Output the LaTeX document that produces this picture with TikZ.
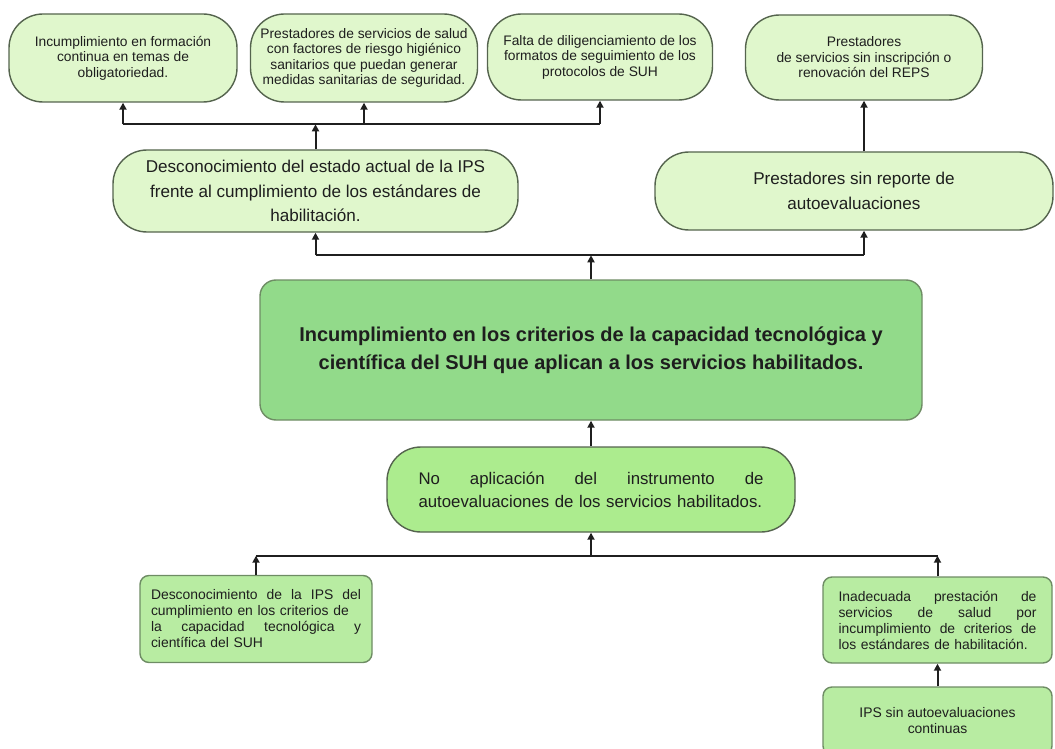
\documentclass[tikz,border=0pt]{standalone}
\usepackage{fontspec}
\setmainfont{Liberation Sans}
\usetikzlibrary{arrows.meta,calc}
\definecolor{topfill}{RGB}{224,247,204}
\definecolor{midfill}{RGB}{146,218,138}
\definecolor{sevfill}{RGB}{172,236,142}
\definecolor{botfill}{RGB}{184,236,162}
\definecolor{bordA}{RGB}{85,100,78}
\definecolor{bordB}{RGB}{110,140,100}
\definecolor{ink}{RGB}{30,30,30}
\begin{document}
\begin{tikzpicture}[x=1pt,y=-1pt,
  pill/.style={draw=bordA, line width=1.4pt, fill=topfill, rounded corners=34pt,
    inner sep=0pt, align=center, text=ink},
  smallpill/.style={pill, font=\fontsize{13.8}{15.5}\selectfont},
  bigpill/.style={pill, font=\fontsize{17.1}{24.5}\selectfont},
  mainbox/.style={draw=bordB, line width=1.4pt, fill=midfill, rounded corners=16pt,
    inner sep=0pt, align=center, text=ink, font=\fontsize{20}{28}\selectfont\bfseries},
  sevbox/.style={pill, fill=sevfill, font=\fontsize{16.8}{23}\selectfont},
  botbox/.style={draw=bordB, line width=1.4pt, fill=botfill, rounded corners=9pt,
    inner sep=0pt, text=ink, font=\fontsize{13.9}{16}\selectfont},
  ln/.style={line width=2pt, draw=black!88},
  arr/.style={ln, -{Triangle[length=7pt,width=7pt]}}
]
\useasboundingbox (0,0) rectangle (1055,749);

% top row
\node[smallpill, minimum width=228pt, minimum height=88pt] (b1) at (123,58)
  {Incumplimiento en formación\\continua en temas de\\obligatoriedad.};
\node[smallpill, minimum width=227pt, minimum height=88pt] (b2) at (364,58)
  {Prestadores de servicios de salud\\con factores de riesgo higiénico\\sanitarios que puedan generar\\medidas sanitarias de seguridad.};
\node[smallpill, minimum width=225pt, minimum height=86pt] (b3) at (600,57)
  {Falta de diligenciamiento de los\\formatos de seguimiento de los\\protocolos de SUH};
\node[smallpill, minimum width=237pt, minimum height=85pt] (b4) at (864,57.5)
  {Prestadores\\de servicios sin inscripción o\\renovación del REPS};

% middle row
\node[bigpill, minimum width=405pt, minimum height=82pt] (b5) at (315.5,191)
  {Desconocimiento del estado actual de la IPS\\frente al cumplimiento de los estándares de\\habilitación.};
\node[bigpill, minimum width=398pt, minimum height=78pt] (b6) at (854,191)
  {Prestadores sin reporte de\\autoevaluaciones};

% central problem
\node[mainbox, minimum width=662pt, minimum height=140pt] (c) at (591,350)
  {Incumplimiento en los criterios de la capacidad tecnológica y\\científica del SUH que aplican a los servicios habilitados.};

% cause
\node[sevbox, minimum width=408pt, minimum height=85pt, text width=345pt, align=left] (b7) at (591,489.5)
  {No\hfill aplicación\hfill del\hfill instrumento\hfill de\\autoevaluaciones de los servicios habilitados.};

% bottom boxes
\node[botbox, minimum width=232pt, minimum height=87pt, text width=210pt, align=left] (b8) at (256,619)
  {Desconocimiento\hfill de\hfill la\hfill IPS\hfill del\\cumplimiento en los criterios de\\la\hfill capacidad\hfill tecnológica\hfill y\\científica del SUH};
\node[botbox, minimum width=229pt, minimum height=86pt, text width=198pt, align=left] (b9) at (937.5,620)
  {Inadecuada\hfill prestación\hfill de\\servicios\hfill de\hfill salud\hfill por\\incumplimiento\hfill de\hfill criterios\hfill de\\los estándares de habilitación.};
\node[botbox, minimum width=229pt, minimum height=68pt, align=center] (b10) at (937.5,721)
  {IPS sin autoevaluaciones\\continuas};

% connectors, top-left group
\coordinate (j1) at ($(b5.north)+(0,-25)$);
\draw[ln] (b1.south |- j1) -- (b3.south |- j1);
\draw[arr] (b5.north) -- (j1);
\draw[arr] (b1.south |- j1) -- (b1.south);
\draw[arr] (b2.south |- j1) -- (b2.south);
\draw[arr] (b3.south |- j1) -- (b3.south);
% right group
\draw[arr] (b6.north -| b4.south) -- (b4.south);
% central to middle row
\coordinate (j2) at ($(c.north)+(0,-24)$);
\draw[ln] (b5.south |- j2) -- (b4.south |- j2);
\draw[arr] (c.north) -- (j2);
\draw[arr] (b5.south |- j2) -- (b5.south);
\draw[arr] (b4.south |- j2) -- (b6.south -| b4.south);
% cause to central
\draw[arr] (b7.north) -- (c.south);
% bottom group
\coordinate (j3) at ($(b7.south)+(0,23)$);
\draw[ln] (b8.north |- j3) -- (b9.north |- j3);
\draw[arr] (j3) -- (b7.south);
\draw[arr] (b8.north) -- (b8.north |- j3);
\draw[arr] (b9.north) -- (b9.north |- j3);
\draw[arr] (b10.north) -- (b9.south);
\end{tikzpicture}
\end{document}
